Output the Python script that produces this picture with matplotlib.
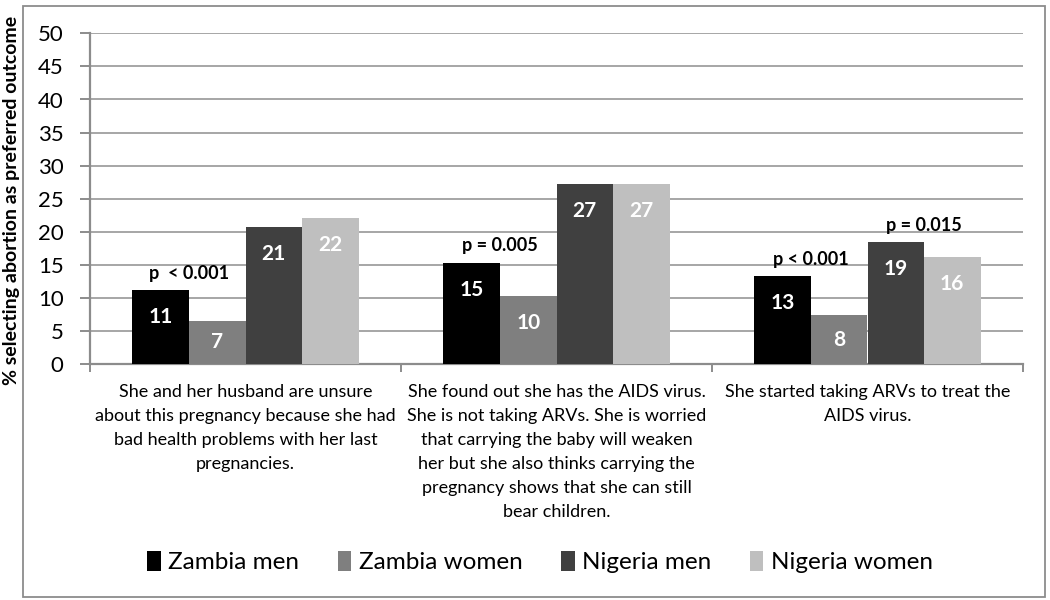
import numpy as np
import matplotlib
matplotlib.use("Agg")
import matplotlib.pyplot as plt
from matplotlib.patches import Rectangle

plt.rcParams["font.family"] = ["Lato", "DejaVu Sans"]

CATEGORIES = [
    "She and her husband are unsure\nabout this pregnancy because she had\nbad health problems with her last\npregnancies.",
    "She found out she has the AIDS virus.\nShe is not taking ARVs. She is worried\nthat carrying the baby will weaken\nher but she also thinks carrying the\npregnancy shows that she can still\nbear children.",
    "She started taking ARVs to treat the\nAIDS virus.",
]
SERIES = ["Zambia men", "Zambia women", "Nigeria men", "Nigeria women"]
VALUES = {
    "Zambia men": [11.2, 15.35, 13.3],
    "Zambia women": [6.6, 10.3, 7.45],
    "Nigeria men": [20.8, 27.3, 18.4],
    "Nigeria women": [22.1, 27.3, 16.2],
}
LABELS = {
    "Zambia men": ["11", "15", "13"],
    "Zambia women": ["7", "10", "8"],
    "Nigeria men": ["21", "27", "19"],
    "Nigeria women": ["22", "27", "16"],
}
COLORS = {
    "Zambia men": "#000000",
    "Zambia women": "#7f7f7f",
    "Nigeria men": "#404040",
    "Nigeria women": "#bfbfbf",
}
# p-values: (category index, left series index of the pair, text)
P_VALUES = [
    (0, 0, "p  < 0.001"),
    (1, 0, "p = 0.005"),
    (2, 0, "p < 0.001"),
    (2, 2, "p = 0.015"),
]

fig = plt.figure(figsize=(10.5, 6), dpi=100)
ax = fig.add_axes([90 / 1050, 1 - 364.3 / 600, (1023 - 90) / 1050, (364.3 - 33.3) / 600])

# outer chart frame
fig.patches.append(Rectangle((23 / 1050, 3 / 600), 1022 / 1050, 591 / 600,
                             transform=fig.transFigure, fill=False,
                             edgecolor="#8c8c8c", linewidth=1.3))

x = np.arange(len(CATEGORIES))
width = 0.1817
px_per_unit = (364.3 - 33.3) / 50.0

bars = {}
for i, s in enumerate(SERIES):
    pos = x + (i - 1.5) * width
    vals = np.array(VALUES[s])
    bars[s] = ax.bar(pos, vals, width, color=COLORS[s], label=s, zorder=3)
    for xp, v, lab in zip(pos, vals, LABELS[s]):
        off = min(27 / px_per_unit, v / 2)
        ax.text(xp, v - off, lab, ha="center", va="center", color="white",
                fontsize=15, fontweight="bold", zorder=4)

for cat, si, txt in P_VALUES:
    left = SERIES[si]
    right = SERIES[si + 1]
    top = max(VALUES[left][cat], VALUES[right][cat])
    xc = x[cat] + (si - 1) * width
    ax.annotate(txt, (xc, top), xytext=(0, 6), textcoords="offset points",
                ha="center", va="bottom", fontsize=13, fontweight="bold")

ax.set_ylim(0, 50)
ax.set_xlim(-0.5, 2.5)
ax.set_yticks(np.arange(0, 51, 5))
ax.grid(axis="y", color="#a6a6a6", linewidth=1.4, zorder=0)
ax.tick_params(axis="y", labelsize=16, length=7, width=1.4, color="#8c8c8c", pad=12)

ax.set_xticks(x)
ax.set_xticklabels(CATEGORIES, fontsize=13, linespacing=1.62)
ax.tick_params(axis="x", which="major", length=0, pad=14)
ax.set_xticks(np.arange(-0.5, 2.6, 1.0), minor=True)
ax.tick_params(axis="x", which="minor", length=6, width=1.4, color="#8c8c8c")

for side in ["top", "right"]:
    ax.spines[side].set_visible(False)
for side in ["left", "bottom"]:
    ax.spines[side].set_color("#8c8c8c")
    ax.spines[side].set_linewidth(1.6)

fig.text(12 / 1050, 1 - 200 / 600, "% selecting abortion as preferred outcome",
         rotation=90, ha="center", va="center", fontsize=14, fontweight="bold")

fig.legend(handles=[bars[s] for s in SERIES], labels=SERIES, loc="center",
           bbox_to_anchor=(540 / 1050, 1 - 562 / 600), ncol=4, frameon=False,
           fontsize=17.5, handlelength=0.55, handleheight=0.9, handletextpad=0.3,
           columnspacing=1.6)

fig.savefig("out.png", dpi=100)
